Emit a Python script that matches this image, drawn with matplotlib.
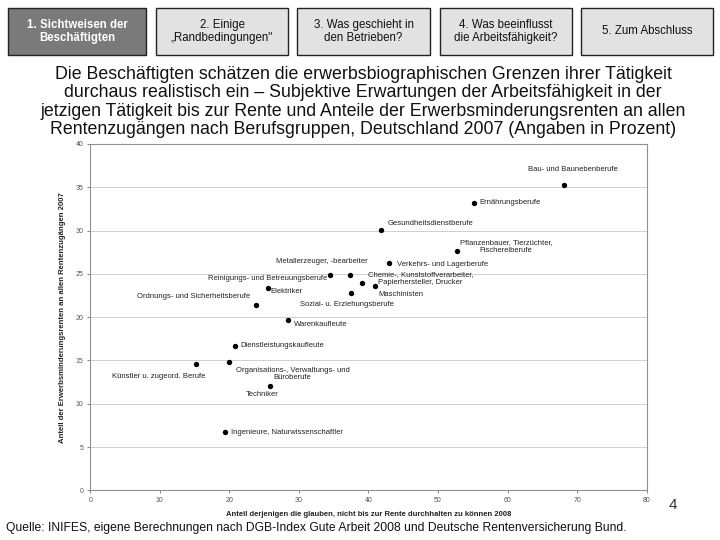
import matplotlib
matplotlib.use("Agg")
import matplotlib.pyplot as plt
from matplotlib.patches import Rectangle

plt.rcParams['font.family'] = ['Liberation Sans', 'DejaVu Sans']

# ---- data ----
nav_labels = ["1. Sichtweisen der\nBeschäftigten", "2. Einige\n„Randbedingungen\"",
              "3. Was geschieht in\nden Betrieben?", "4. Was beeinflusst\ndie Arbeitsfähigkeit?",
              "5. Zum Abschluss"]
occupations = [
    "Bau- und Baunebenberufe", "Ernährungsberufe", "Gesundheitsdienstberufe",
    "Pflanzenbauer, Tierzüchter,\nFischereiberufe", "Verkehrs- und Lagerberufe",
    "Chemie-, Kunststoffverarbeiter,\nPapierhersteller, Drucker", "Maschinisten",
    "Sozial- u. Erziehungsberufe", "Metallerzeuger, -bearbeiter",
    "Reinigungs- und Betreuungsberufe", "Elektriker", "Ordnungs- und Sicherheitsberufe",
    "Warenkaufleute", "Dienstleistungskaufleute", "Künstler u. zugeord. Berufe",
    "Organisations-, Verwaltungs- und\nBüroberufe", "Techniker",
    "Ingenieure, Naturwissenschaftler",
]
share_not_until_retirement = [68.1, 55.2, 41.8, 52.7, 43.0, 41.0, 39.1, 37.5, 37.3,
                              34.5, 25.6, 23.9, 28.5, 20.8, 15.2, 20.0, 25.8, 19.4]
share_disability_pensions = [35.3, 33.2, 30.1, 27.6, 26.2, 23.6, 23.9, 22.8, 24.9,
                             24.9, 23.4, 21.4, 19.7, 16.7, 14.6, 14.8, 12.0, 6.7]
x_ticks = [0, 10, 20, 30, 40, 50, 60, 70, 80]
y_ticks = [0, 5, 10, 15, 20, 25, 30, 35, 40]

# label placement (offset in points, ha)
label_style = [
    ((6.3, 10.6), 'center'), ((3.6, 0), 'left'), ((4.5, 4.3), 'left'),
    ((35.5, 3.5), 'center'), ((5.5, -0.5), 'left'), ((32.4, 5.5), 'center'),
    ((27.9, -8.1), 'center'), ((-2.7, -8.6), 'center'), ((-20.4, 9.6), 'center'),
    ((-2.2, -2.4), 'right'), ((1.5, -2.4), 'left'), ((-4.3, 5.8), 'right'),
    ((4.0, -3.1), 'left'), ((3.8, 0), 'left'), ((6.7, -8.9), 'right'),
    ((45.6, -8.5), 'center'), ((-5.3, -6.0), 'center'), ((4.1, 0), 'left'),
]

W, H = 720, 540
fig = plt.figure(figsize=(7.2, 5.4), dpi=100)

# ---- navigation boxes ----
box_x = [(8, 146), (156, 288), (297, 430), (440, 572), (581, 713)]
for i, ((x0, x1), lab) in enumerate(zip(box_x, nav_labels)):
    active = (i == 0)
    r = Rectangle((x0 / W, 1 - 55 / H), (x1 - x0) / W, 47 / H, transform=fig.transFigure,
                  facecolor='#7a7a7a' if active else '#e2e2e2', edgecolor='#222222', lw=1.0)
    fig.add_artist(r)
    fig.text((x0 + x1) / 2 / W, 1 - 31.5 / H, lab, ha='center', va='center',
             fontsize=8.3, color='white' if active else '#111111',
             fontweight='bold' if active else 'normal', linespacing=1.15)

# ---- title ----
title = ("Die Beschäftigten schätzen die erwerbsbiographischen Grenzen ihrer Tätigkeit\n"
         "durchaus realistisch ein – Subjektive Erwartungen der Arbeitsfähigkeit in der\n"
         "jetzigen Tätigkeit bis zur Rente und Anteile der Erwerbsminderungsrenten an allen\n"
         "Rentenzugängen nach Berufsgruppen, Deutschland 2007 (Angaben in Prozent)")
fig.text(363 / W, 1 - 102 / H, title, ha='center', va='center', fontsize=12.8,
         color='#111111', linespacing=1.12)

# ---- scatter axes ----
ax = fig.add_axes([90.3 / W, 1 - 490.3 / H, (646.6 - 90.3) / W, (490.3 - 144) / H])
ax.scatter(share_not_until_retirement, share_disability_pensions, s=15, color='black',
           zorder=3, linewidths=0)
for xv, yv, lab, (off, ha) in zip(share_not_until_retirement, share_disability_pensions,
                                  occupations, label_style):
    ax.annotate(lab, (xv, yv), xytext=off, textcoords='offset points', ha=ha, va='center',
                fontsize=5.5, color='#222222', multialignment='center', linespacing=1.1)

ax.set_xlim(0, 80)
ax.set_ylim(0, 40)
ax.set_xticks(x_ticks)
ax.set_yticks(y_ticks)
ax.tick_params(axis='both', labelsize=5, colors='#555555', length=2, width=0.5, pad=3)
ax.grid(axis='y', color='#c8c8c8', lw=0.6)
ax.set_axisbelow(True)
for s in ax.spines.values():
    s.set_color('#909090')
    s.set_linewidth(0.8)

ax.set_xlabel("Anteil derjenigen die glauben, nicht bis zur Rente durchhalten zu können 2008",
              fontsize=5.5, fontweight='bold', color='#222222', labelpad=5)
ax.set_ylabel("Anteil der Erwerbsminderungsrenten an allen Rentenzugängen 2007",
              fontsize=5.6, fontweight='bold', color='#222222', labelpad=7)

fig.text(673 / W, 1 - 505 / H, "4", ha='center', va='center', fontsize=11, color='#333333')
fig.text(6 / W, 1 - 528 / H,
         "Quelle: INIFES, eigene Berechnungen nach DGB-Index Gute Arbeit 2008 und Deutsche Rentenversicherung Bund.",
         ha='left', va='center', fontsize=8.75, color='#111111')

fig.savefig("out.png", dpi=100)
